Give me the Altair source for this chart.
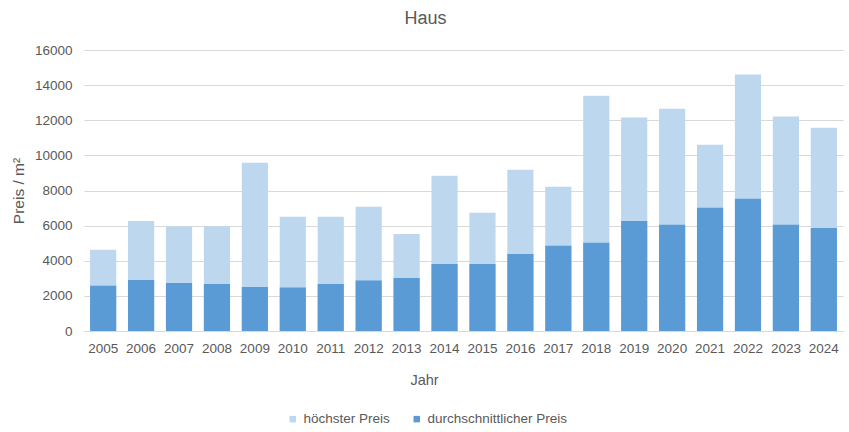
import altair as alt
import pandas as pd

years = [str(y) for y in range(2005, 2025)]
hoechster = [4620, 6270, 5950, 5970, 9580, 6500, 6500, 7070, 5530, 8840,
             6730, 9180, 8210, 13400, 12150, 12660, 10610, 14600, 12210, 11580]
durchschnitt = [2570, 2910, 2740, 2680, 2510, 2470, 2680, 2870, 3020, 3820,
                3820, 4390, 4850, 5020, 6270, 6050, 7020, 7530, 6050, 5870]
series = ["höchster Preis", "durchschnittlicher Preis"]
colors = ["#BDD7EE", "#5B9BD5"]

rows = []
for y, v in zip(years, hoechster):
    rows.append({"Jahr": y, "Serie": series[0], "Wert": v, "o": 0})
for y, v in zip(years, durchschnitt):
    rows.append({"Jahr": y, "Serie": series[1], "Wert": v, "o": 1})
df = pd.DataFrame(rows)

FONT = "Liberation Sans"
GREY = "#595959"

chart = alt.Chart(df).mark_bar().encode(
    x=alt.X("Jahr:N", title="Jahr",
            scale=alt.Scale(paddingInner=0.31, paddingOuter=0.16),
            axis=alt.Axis(labelAngle=0, ticks=False, domainColor="#D9D9D9",
                          labelPadding=10, titlePadding=19, titleX=340)),
    y=alt.Y("Wert:Q", title="Preis / m²", stack=None,
            scale=alt.Scale(domain=[0, 16000]),
            axis=alt.Axis(values=list(range(0, 16001, 2000)), format="d",
                          domain=False, ticks=False, titleFontSize=15.5,
                          labelPadding=12, titlePadding=8, gridColor="#D9D9D9")),
    color=alt.Color("Serie:N", scale=alt.Scale(domain=series, range=colors),
                    sort=series,
                    legend=alt.Legend(title=None, orient="none", direction="horizontal",
                                      legendX=202, legendY=362, symbolType="square",
                                      symbolSize=42, symbolStrokeWidth=0,
                                      labelOffset=4, columnPadding=20)),
    order=alt.Order("o:Q"),
).properties(
    width=759, height=281,
    title=alt.TitleParams("Haus", fontSize=18, font=FONT, color=GREY,
                          fontWeight="normal", dx=-38, offset=15),
    padding={"left": 84, "top": 50, "right": 6, "bottom": 101},
    autosize=alt.AutoSizeParams(type="none"),
).configure_axis(
    labelFont=FONT, titleFont=FONT, labelColor=GREY, titleColor=GREY,
    labelFontSize=13.5, titleFontSize=14.5, titleFontWeight="normal",
).configure_legend(
    labelFont=FONT, labelColor=GREY, labelFontSize=13.5,
).configure_view(stroke=None)

chart.save("out.html", embed_options={"renderer": "svg", "actions": False})
